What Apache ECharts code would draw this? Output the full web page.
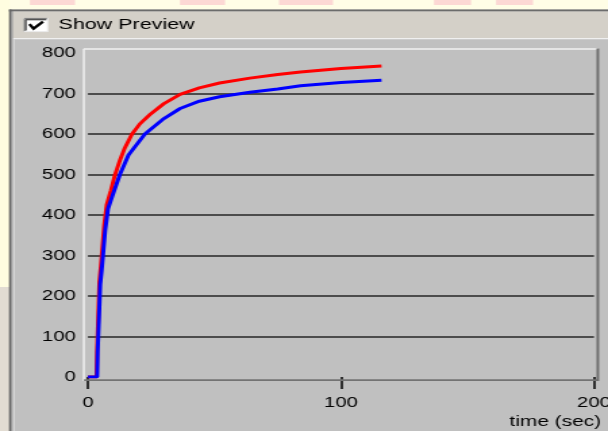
<!DOCTYPE html>
<html>
<head>
<meta charset="utf-8">
<script src="https://cdn.jsdelivr.net/npm/echarts@6/dist/echarts.min.js"></script>
<style>
html,body{margin:0;padding:0;background:#fff;}
#wrap{width:608px;height:431px;overflow:hidden;position:relative;}
#chart{width:450px;height:431px;transform:scaleX(1.351111);transform-origin:0 0;}
</style>
</head>
<body>
<div id="wrap"><div id="chart"></div></div>
<script>
// ---- data ----
const xTicks = [0, 100, 200];
const yTicks = [0, 100, 200, 300, 400, 500, 600, 700, 800];
const timeRed = [0, 3.4, 3.6, 4.0, 4.5, 5.1, 5.7, 6.4, 7.4, 9.0, 10.7, 12.6, 14.5, 17.4, 20.5, 24.5, 30, 36.4, 44, 52, 64, 75, 84, 100, 116];
const red     = [0, 0, 64, 140, 235, 275, 320, 375, 425, 460, 500, 535, 565, 600, 625, 648, 675, 698, 714, 726, 738, 747, 753, 762, 768];
const timeBlue = [0, 3.6, 3.8, 4.2, 4.8, 5.4, 6.0, 6.8, 7.9, 9.5, 12.6, 16, 22.5, 30, 36.4, 44, 52, 64, 75, 84, 100, 116];
const blue     = [0, 0, 62, 124, 228, 264, 306, 363, 415, 445, 500, 548, 600, 638, 663, 681, 692, 703, 711, 719, 727, 733];
const checkboxLabel = 'Show Preview';
const xAxisName = 'time (sec)';

// ---- layout (real pixels converted to the horizontally-stretched canvas) ----
const S = 608 / 450;
const X = px => px / S;
const FONT = '"Liberation Sans", Arial, sans-serif';

const redData = timeRed.map((t, i) => [t, red[i]]);
const blueData = timeBlue.map((t, i) => [t, blue[i]]);

function rect(x0, y0, x1, y1, fill, z) {
  return { type: 'rect', silent: true, z: z || 1,
    shape: { x: X(x0), y: y0, width: X(x1) - X(x0), height: y1 - y0 },
    style: { fill: fill } };
}
function line(x0, y0, x1, y1, stroke, w, z) {
  return { type: 'line', silent: true, z: z || 5,
    shape: { x1: X(x0), y1: y0, x2: X(x1), y2: y1 },
    style: { stroke: stroke, lineWidth: w } };
}

const graphics = [
  // outside strips
  rect(0, 0, 608, 9.5, '#fffde6'),
  rect(30, 0, 75, 5, '#fcd8d4'),
  rect(180, 0, 225, 5, '#fcd8d4'),
  rect(279, 0, 333, 5, '#fcd8d4'),
  rect(434, 0, 471, 5, '#fcd8d4'),
  rect(496, 0, 533, 5, '#fcd8d4'),
  rect(0, 0, 9.5, 287, '#fffde0'),
  rect(0, 287, 9.5, 431, '#e2dcd2'),
  // dialog frame
  rect(9, 9.5, 608, 11.5, '#6c6c6c'),
  rect(9, 9.5, 11.5, 431, '#676767'),
  rect(11.5, 11.5, 13, 431, '#9c9c9c'),
  rect(13, 11.5, 608, 38, '#d4d0c8'),
  rect(13, 38, 608, 39.3, '#f0f0f0'),
  rect(13, 39.3, 14.3, 431, '#e4e4e4'),
  // checkbox
  rect(24, 18, 48, 32, '#ffffff', 2),
  line(24.5, 18.5, 47.5, 18.5, '#808080', 1.2, 3),
  line(24.5, 18.5, 24.5, 31.5, '#808080', 1.2, 3),
  line(25.8, 19.7, 46.5, 19.7, '#404040', 1.2, 3),
  line(25.8, 19.7, 25.8, 30.5, '#404040', 1.2, 3),
  line(24, 31.6, 48, 31.6, '#e8e8e8', 1, 3),
  line(47.6, 18, 47.6, 32, '#e8e8e8', 1, 3),
  { type: 'polyline', silent: true, z: 4,
    shape: { points: [[X(29.5), 24.2], [X(33.5), 28.6], [X(43), 21.6]] },
    style: { stroke: '#000', lineWidth: 2.3, fill: null } },
  { type: 'text', silent: true, z: 4, x: X(58.5), y: 24.5, scaleX: 1.06,
    style: { text: checkboxLabel, fill: '#000', font: '15px ' + FONT, verticalAlign: 'middle', align: 'left' } },
  // plot frame
  line(83.5, 49, 598, 49, '#f2f2f2', 1.6),
  line(83.8, 49, 83.8, 381, '#ececec', 1.6),
  line(84, 380.2, 598, 380.2, '#737373', 1.8),
  line(597.8, 48.5, 597.8, 381, '#6f6f6f', 2),
  // x axis title
  { type: 'text', silent: true, z: 4, x: X(509.5), y: 421.5, scaleX: 1.03,
    style: { text: xAxisName, fill: '#000', font: '15px ' + FONT, verticalAlign: 'middle', align: 'left' } }
];

const chart = echarts.init(document.getElementById('chart'), null, { renderer: 'canvas' });
chart.setOption({
  animation: false,
  backgroundColor: '#c0c0c0',
  grid: { left: X(88), right: 450 - X(594), top: 53, bottom: 54, containLabel: false, outerBoundsMode: 'none' },
  xAxis: {
    type: 'value', min: xTicks[0], max: xTicks[xTicks.length - 1], interval: xTicks[1] - xTicks[0],
    offset: 3,
    axisLine: { show: false },
    axisTick: { show: true, length: 12, lineStyle: { color: '#000', width: 1.5 } },
    axisLabel: { margin: 15, color: '#000', fontSize: 15, fontFamily: FONT, showMaxLabel: true, showMinLabel: true, hideOverlap: false },
    splitLine: { show: false }
  },
  yAxis: {
    type: 'value', min: yTicks[0], max: yTicks[yTicks.length - 1], interval: yTicks[1] - yTicks[0],
    axisLine: { show: false },
    axisTick: { show: false },
    axisLabel: { margin: 9, color: '#000', fontSize: 15, fontFamily: FONT },
    splitLine: { show: true, showMinLine: false, showMaxLine: false, lineStyle: { color: '#262626', width: 1.5 } }
  },
  series: [
    { type: 'line', data: redData, showSymbol: false, z: 3,
      lineStyle: { color: '#ff0000', width: 3 }, itemStyle: { color: '#ff0000' } },
    { type: 'line', data: blueData, showSymbol: false, z: 4,
      lineStyle: { color: '#0000ff', width: 3 }, itemStyle: { color: '#0000ff' } }
  ],
  graphic: graphics
});
</script>
</body>
</html>
